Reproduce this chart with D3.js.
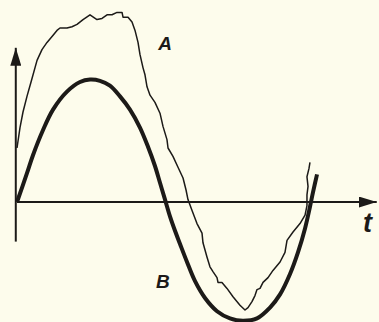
<!DOCTYPE html>
<html>
<head>
<meta charset="utf-8">
<script src="https://cdn.jsdelivr.net/npm/d3@7"></script>
<style>
  html, body { margin: 0; padding: 0; background: #fdfcec; }
  svg { display: block; }
  .lbl { font-family: "Liberation Sans", Arial, sans-serif; font-weight: bold; font-style: italic; fill: #1c1a18; }
</style>
</head>
<body>
<div id="chart-area"></div>
<script>
// phase in degrees, amplitude relative to the sine peak
var phaseB = [0, 12.3, 19.7, 32.1, 44.4, 61.6, 77.7, 90, 102.3, 114.6, 127, 139.3, 151.6, 161.5, 170.1, 176.3,
    182.5, 188.6, 194.8, 201, 209.6, 219.5, 231.8, 246.6, 262.6, 278.6, 295.9, 311.9, 324.3, 336.6, 346.4, 355.1, 361.2, 364.9, 369.9];
var valueB = [0, 0.24, 0.39, 0.6, 0.77, 0.92, 1.0, 1.02, 1.01, 0.97, 0.88, 0.77, 0.62, 0.46, 0.3, 0.16,
    0.02, -0.12, -0.24, -0.35, -0.5, -0.66, -0.8, -0.91, -0.97, -0.99, -0.97, -0.88, -0.77, -0.6, -0.42, -0.22, -0.04, 0.08, 0.23];

var phaseA = [0, 3.7, 7.4, 12.3, 17.3, 24.7, 30.8, 37, 43.2, 49.3, 53, 61.6, 67.8, 74, 81.4, 90, 98.6, 104.8, 111, 117.1,
    123.3, 129.5, 130.7, 136.9, 141.8, 145.5, 149.2, 151.6, 155.3, 157.8, 160.3, 164, 170.1, 176.3, 180, 184.9, 186.2,
    192.3, 198.5, 204.7, 208.4, 210.8, 215.8, 221.9, 228.1, 229.3, 234.3, 237.9, 241.6, 246.6, 247.8, 252.7, 258.9,
    266.3, 274.9, 281.1, 284.8, 289.7, 293.4, 295.9, 299.6, 303.3, 309.5, 315.6, 324.3, 330.4, 332.9, 340.3, 348.9,
    355.1, 357.5, 357.5, 358.8, 357.5, 360, 361.2];
var valueA = [0.45, 0.62, 0.75, 0.88, 1.0, 1.18, 1.27, 1.33, 1.38, 1.43, 1.45, 1.45, 1.46, 1.48, 1.52, 1.56, 1.52, 1.53, 1.56, 1.56,
    1.58, 1.58, 1.54, 1.54, 1.5, 1.43, 1.33, 1.23, 1.12, 1.06, 0.96, 0.89, 0.83, 0.74, 0.63, 0.52, 0.45,
    0.38, 0.29, 0.2, 0.1, 0.02, -0.07, -0.18, -0.26, -0.34, -0.46, -0.54, -0.58, -0.63, -0.67, -0.67, -0.72,
    -0.79, -0.86, -0.9, -0.88, -0.83, -0.78, -0.73, -0.72, -0.67, -0.63, -0.57, -0.5, -0.42, -0.32, -0.25, -0.18,
    -0.11, -0.03, 0.06, 0.13, 0.21, 0.28, 0.33];

var labelText = ["A", "B", "t"];
var labelPhase = [174, 171.5, 426.5];
var labelValue = [1.27, -0.72, -0.25];
var labelSize = [19, 19, 27];

var width = 379, height = 322;
var ink = "#1c1a18";

var svg = d3.select("#chart-area")
    .append("svg")
        .attr("width", width)
        .attr("height", height);

svg.append("rect")
    .attr("width", width)
    .attr("height", height)
    .attr("fill", "#fdfcec");

// scales
var x = d3.scaleLinear().domain([0, 360]).range([17, 309]);
var y = d3.scaleLinear().domain([-1, 1]).range([322, 82]);

// arrow head
svg.append("defs").append("marker")
    .attr("id", "arrow")
    .attr("viewBox", "0 0 18 11")
    .attr("refX", 18)
    .attr("refY", 5.5)
    .attr("markerWidth", 18)
    .attr("markerHeight", 11)
    .attr("markerUnits", "userSpaceOnUse")
    .attr("orient", "auto")
  .append("path")
    .attr("d", "M0,0 L18,5.5 L0,11 Z")
    .attr("fill", ink);

// t axis
svg.append("line")
    .attr("x1", x(0)).attr("y1", y(0))
    .attr("x2", x(443.5)).attr("y2", y(0))
    .attr("stroke", ink)
    .attr("stroke-width", 2)
    .attr("marker-end", "url(#arrow)");

// value axis
svg.append("line")
    .attr("x1", x(-1.5)).attr("y1", y(-0.33))
    .attr("x2", x(-1.5)).attr("y2", y(1.285))
    .attr("stroke", ink)
    .attr("stroke-width", 2)
    .attr("marker-end", "url(#arrow)");

var dataB = phaseB.map(function(d, i){ return { t: d, v: valueB[i] }; });
var dataA = phaseA.map(function(d, i){ return { t: d, v: valueA[i] }; });

var lineB = d3.line()
    .x(function(d){ return x(d.t); })
    .y(function(d){ return y(d.v); })
    .curve(d3.curveCatmullRom);

var lineA = d3.line()
    .x(function(d){ return x(d.t); })
    .y(function(d){ return y(d.v); });

svg.append("path")
    .datum(dataA)
    .attr("d", lineA)
    .attr("fill", "none")
    .attr("stroke", ink)
    .attr("stroke-width", 1.5)
    .attr("stroke-linejoin", "round");

svg.append("path")
    .datum(dataB)
    .attr("d", lineB)
    .attr("fill", "none")
    .attr("stroke", ink)
    .attr("stroke-width", 4);

// labels
svg.selectAll("text.lbl")
    .data(labelText)
    .enter()
    .append("text")
        .attr("class", "lbl")
        .attr("x", function(d, i){ return x(labelPhase[i]); })
        .attr("y", function(d, i){ return y(labelValue[i]); })
        .attr("font-size", function(d, i){ return labelSize[i] + "px"; })
        .text(function(d){ return d; });
</script>
</body>
</html>
